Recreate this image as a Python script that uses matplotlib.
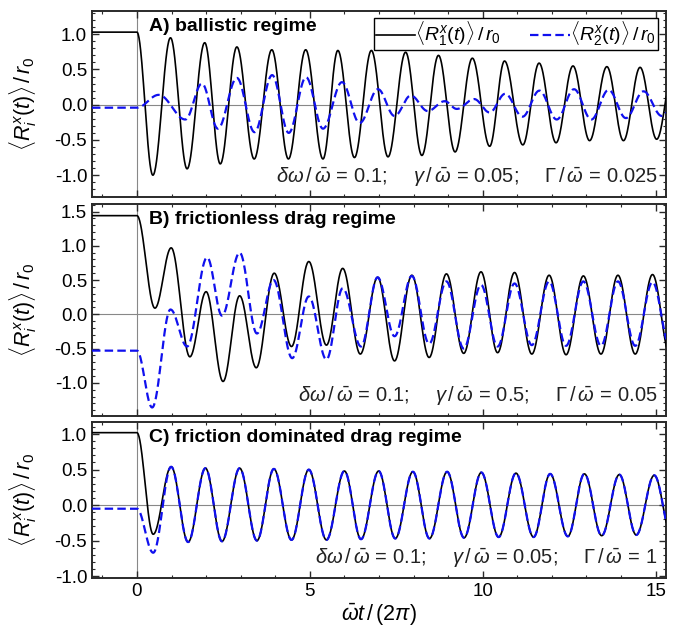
import numpy as np
import matplotlib
matplotlib.use("Agg")
import matplotlib.pyplot as plt
from matplotlib.ticker import MultipleLocator, FormatStrFormatter

plt.rcParams['font.family'] = ['Liberation Sans', 'DejaVu Sans']
plt.rcParams['mathtext.fontset'] = 'custom'
plt.rcParams['mathtext.rm'] = 'Liberation Sans'
plt.rcParams['mathtext.it'] = 'Liberation Sans:italic'
plt.rcParams['mathtext.bf'] = 'Liberation Sans:bold'

# common time axis (omega_bar t / 2 pi)
T_MIN, T_MAX = -1.3, 15.3

# turning points of every curve (time, value); first entry is the value held for t <= 0
# A) ballistic regime
a1_t = [0.0, 0.46, 0.97, 1.45, 1.96, 2.41, 2.89, 3.39, 3.90, 4.38, 4.88, 5.38, 5.81, 6.29, 6.78, 7.26,
        7.77, 8.24, 8.72, 9.20, 9.70, 10.20, 10.63, 11.16, 11.63, 12.12, 12.61, 13.09, 13.59, 14.07,
        14.55, 15.03, 15.52]
a1_v = [1.03, -1.0, 0.95, -0.91, 0.88, -0.84, 0.82, -0.77, 0.78, -0.77, 0.78, -0.77, 0.77, -0.75, 0.77,
        -0.74, 0.745, -0.72, 0.70, -0.67, 0.66, -0.59, 0.62, -0.57, 0.59, -0.54, 0.55, -0.51, 0.54,
        -0.51, 0.53, -0.49, 0.52]
a2_t = [0.0, 0.63, 1.40, 1.88, 2.34, 2.89, 3.40, 3.91, 4.39, 4.89, 5.38, 5.93, 6.44, 6.97, 7.45, 7.92,
        8.41, 8.90, 9.25, 9.75, 10.20, 10.65, 11.15, 11.64, 12.14, 12.64, 13.14, 13.64, 14.14, 14.65,
        15.18, 15.65]
a2_v = [-0.043, 0.14, -0.21, 0.30, -0.34, 0.38, -0.39, 0.42, -0.40, 0.39, -0.34, 0.32, -0.26, 0.22,
        -0.16, 0.13, -0.09, 0.05, -0.06, 0.08, -0.11, 0.155, -0.17, 0.20, -0.21, 0.22, -0.21, 0.21,
        -0.19, 0.19, -0.16, 0.15]

# B) frictionless drag regime
b1_t = [0.0, 0.52, 0.99, 1.53, 2.00, 2.49, 2.97, 3.45, 3.97, 4.47, 4.97, 5.48, 5.95, 6.46, 6.96, 7.45,
        7.95, 8.45, 8.95, 9.45, 9.95, 10.43, 10.92, 11.42, 11.92, 12.41, 12.91, 13.42, 13.91, 14.41,
        14.91, 15.41]
b1_v = [1.44, 0.09, 0.97, -0.62, 0.33, -0.98, 0.27, -0.78, 0.60, -0.47, 0.77, -0.45, 0.67, -0.58,
        0.54, -0.68, 0.57, -0.63, 0.59, -0.57, 0.62, -0.56, 0.61, -0.58, 0.57, -0.59, 0.56, -0.58,
        0.57, -0.58, 0.58, -0.58]
b2_t = [0.0, 0.44, 0.97, 1.45, 2.03, 2.46, 2.97, 3.47, 3.95, 4.49, 4.97, 5.48, 5.95, 6.48, 6.96, 7.45,
        7.95, 8.45, 8.95, 9.45, 9.95, 10.43, 10.92, 11.42, 11.92, 12.41, 12.91, 13.42, 13.91, 14.41,
        14.91, 15.41]
b2_v = [-0.53, -1.36, 0.07, -0.47, 0.83, -0.02, 0.90, -0.28, 0.50, -0.64, 0.26, -0.66, 0.38, -0.47,
        0.54, -0.32, 0.56, -0.43, 0.48, -0.50, 0.43, -0.47, 0.45, -0.45, 0.48, -0.46, 0.48, -0.46,
        0.48, -0.46, 0.47, -0.46]

# C) friction dominated drag regime
c1_t = [0.0, 0.47, 0.99, 1.48, 1.98, 2.46, 2.97, 3.47, 3.96, 4.47, 4.97, 5.48, 6.00, 6.48, 6.99, 7.47,
        7.98, 8.46, 8.97, 9.46, 9.96, 10.46, 10.96, 11.47, 11.95, 12.46, 12.94, 13.44, 13.95, 14.44,
        14.96, 15.46]
c1_v = [1.02, -0.41, 0.54, -0.52, 0.52, -0.51, 0.52, -0.50, 0.51, -0.49, 0.50, -0.49, 0.48, -0.48,
        0.48, -0.47, 0.47, -0.47, 0.47, -0.46, 0.46, -0.45, 0.45, -0.45, 0.44, -0.44, 0.44, -0.43,
        0.43, -0.42, 0.42, -0.42]
# particle 2 sits on top of particle 1 after the first dip
c2_t = [0.0, 0.47] + c1_t[2:]
c2_v = [-0.05, -0.67] + c1_v[2:]

titles = ["A) ballistic regime", "B) frictionless drag regime", "C) friction dominated drag regime"]
params = [r"$\delta\omega\,/\,\bar{\omega}\, =\, 0.1;\quad\ \gamma\,/\,\bar{\omega}\, =\, 0.05;\quad\ \Gamma\,/\,\bar{\omega}\, =\, 0.025$",
          r"$\delta\omega\,/\,\bar{\omega}\, =\, 0.1;\quad\ \gamma\,/\,\bar{\omega}\, =\, 0.5;\quad\ \Gamma\,/\,\bar{\omega}\, =\, 0.05$",
          r"$\delta\omega\,/\,\bar{\omega}\, =\, 0.1;\quad\ \gamma\,/\,\bar{\omega}\, =\, 0.05;\quad\ \Gamma\,/\,\bar{\omega}\, =\, 1$"]
ylims = [(-1.31, 1.33), (-1.48, 1.61), (-1.03, 1.17)]


def trace(t_ext, v_ext, n=40):
    # flat rest value before t = 0, then smooth half-cosine arcs between turning points
    s = np.linspace(0, 1, n)
    ts = [T_MIN]
    vs = [v_ext[0]]
    for i in range(len(t_ext) - 1):
        ts.extend(t_ext[i] + (t_ext[i + 1] - t_ext[i]) * s)
        vs.extend(v_ext[i] + (v_ext[i + 1] - v_ext[i]) * (1 - np.cos(np.pi * s)) / 2)
    return np.array(ts), np.array(vs)


fig = plt.figure(figsize=(6.79, 6.28), dpi=100)
# axes boxes in pixels: (top, bottom)
W, H = 679, 628
boxes = [(11, 197), (204, 415.7), (422, 578.3)]
curves = [((a1_t, a1_v), (a2_t, a2_v)), ((b1_t, b1_v), (b2_t, b2_v)), ((c1_t, c1_v), (c2_t, c2_v))]

frame_col = '#2a2a2a'
for k, (top, bot) in enumerate(boxes):
    h = bot - top
    ax = fig.add_axes([92 / W, 1 - bot / H, (666 - 92) / W, h / H])
    ax.axhline(0, color='#888888', lw=0.8, zorder=1)
    ax.axvline(0, color='#888888', lw=0.8, zorder=1)

    (p1, p2) = curves[k]
    t1, v1 = trace(*p1)
    t2, v2 = trace(*p2)
    ax.plot(t1, v1, color='black', lw=1.2, zorder=3,
            label=r"$\langle R_1^x(t)\rangle\,/\,r_0$")
    ax.plot(t2, v2, color='#1010ee', lw=1.6, dashes=(3.8, 1.9), zorder=4,
            label=r"$\langle R_2^x(t)\rangle\,/\,r_0$")

    ax.set_xlim(T_MIN, T_MAX)
    ax.set_ylim(*ylims[k])
    ax.xaxis.set_major_locator(MultipleLocator(5))
    ax.xaxis.set_minor_locator(MultipleLocator(1))
    ax.yaxis.set_major_locator(MultipleLocator(0.5))
    ax.yaxis.set_minor_locator(MultipleLocator(0.1))
    ax.yaxis.set_major_formatter(FormatStrFormatter('%.1f'))
    ax.tick_params(which='both', direction='in', top=True, right=True, color=frame_col,
                   labelsize=13.5)
    ax.tick_params(which='major', length=5, width=1)
    ax.tick_params(which='minor', length=2.5, width=0.8)
    for sp in ax.spines.values():
        sp.set_color(frame_col)
        sp.set_linewidth(1.4)

    ax.set_ylabel(r"$\langle R_i^x(t)\rangle\,/\,r_0$", fontsize=15.5)
    ax.yaxis.set_label_coords(-0.092, 0.5)

    ax.text(57 / 574, (h - 7) / h, titles[k], transform=ax.transAxes,
            fontsize=14, fontweight='bold', va='top', ha='left')
    ax.text(0.986, 8 / h, params[k], transform=ax.transAxes, fontsize=14.5,
            ha='right', va='bottom', color='#222222')

    if k == 0:
        ax.legend(loc='upper right', bbox_to_anchor=(0.986, 0.963), borderaxespad=0,
                  ncol=2, fontsize=14, handlelength=2.05, handletextpad=0.0,
                  columnspacing=1.5, fancybox=False, framealpha=1, edgecolor='black',
                  borderpad=0.1)
    if k < 2:
        ax.tick_params(labelbottom=False)
    else:
        ax.set_xlabel(r"$\bar{\omega}t\,/\,(2\pi)$", fontsize=15.5, labelpad=1)

fig.savefig("out.png", dpi=100)
